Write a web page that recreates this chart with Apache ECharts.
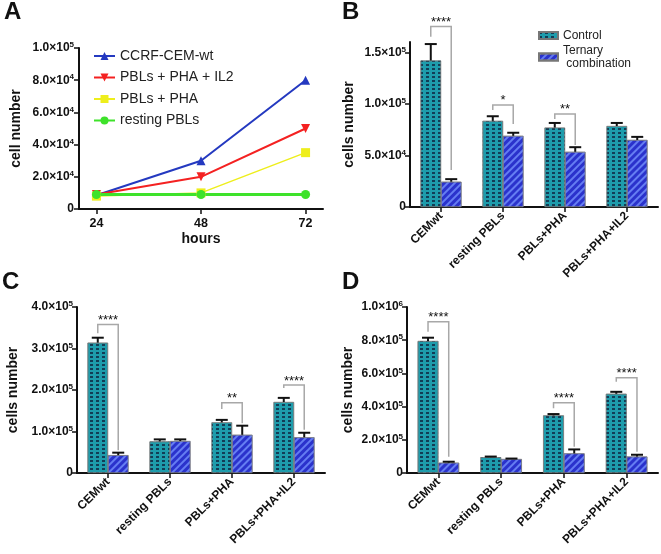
<!DOCTYPE html>
<html><head><meta charset="utf-8">
<script src="https://cdn.jsdelivr.net/npm/echarts@6/dist/echarts.min.js"></script>
<style>html,body{margin:0;padding:0;background:#fff}#c{width:661px;height:554px}</style>
</head><body><div id="c"></div>
<script>
// ---------- Panel A data ----------
const hoursA = [24, 48, 72];
const cemA = [8500, 30000, 80000];
const il2A = [9000, 20000, 50000];
const phaA = [8000, 10000, 35000];
const restA = [9000, 9000, 9000];
const yTicksA = [0, 20000, 40000, 60000, 80000, 100000];
const yLabelsA = ['0', '2.0×10^4', '4.0×10^4', '6.0×10^4', '8.0×10^4', '1.0×10^5'];
const namesA = ['CCRF-CEM-wt', 'PBLs + PHA + IL2', 'PBLs + PHA', 'resting PBLs'];

// ---------- Bar panels ----------
const cats = ['CEMwt', 'resting PBLs', 'PBLs+PHA', 'PBLs+PHA+IL2'];

const ctrlB = [142000, 83500, 77000, 78500];
const ctrlErrB = [158000, 88000, 81500, 81500];
const ternB = [24500, 69000, 53500, 65000];
const ternErrB = [27000, 72000, 58000, 68000];
const sigB = [[0, 175000, 165000, 36000], [1, 99000, 94000, 80500], [2, 90300, 85400, 60200]];
const starsB = ['****', '*', '**'];
const yTicksB = [0, 50000, 100000, 150000];
const yLabelsB = ['0', '5.0×10^4', '1.0×10^5', '1.5×10^5'];

const ctrlC = [314000, 76000, 122000, 171000];
const ctrlErrC = [326000, 81000, 128000, 181000];
const ternC = [43000, 77000, 92000, 86000];
const ternErrC = [49000, 81000, 114000, 97000];
const sigC = [[0, 358000, 337000, 55000], [2, 169000, 154000, 120000], [3, 212000, 205000, 104000]];
const starsC = ['****', '**', '****'];
const yTicksC = [0, 100000, 200000, 300000, 400000];
const yLabelsC = ['0', '1.0×10^5', '2.0×10^5', '3.0×10^5', '4.0×10^5'];

const ctrlD = [795000, 95000, 347000, 477000];
const ctrlErrD = [815000, 99000, 355000, 489000];
const ternD = [62000, 84000, 118000, 99000];
const ternErrD = [68000, 87000, 142000, 110000];
const sigD = [[0, 911000, 851000, 98000], [2, 423000, 390000, 158000], [3, 574000, 550000, 128000]];
const starsD = ['****', '****', '****'];
const yTicksD = [0, 200000, 400000, 600000, 800000, 1000000];
const yLabelsD = ['0', '2.0×10^5', '4.0×10^5', '6.0×10^5', '8.0×10^5', '1.0×10^6'];

// ---------- styling ----------
const FONT = 'Liberation Sans, Arial, sans-serif';
const BARW = 0.33;
const TEAL = '#1e9cac';
const BLUE = '#2a32cc';
const decalCtrl = {symbol: 'rect', symbolSize: 1, dashArrayX: [2.5, 2.5], dashArrayY: [2, 2], color: 'rgba(16,45,70,0.85)'};
const decalTern = {symbol: 'rect', symbolSize: 1, dashArrayX: [1, 0], dashArrayY: [1.6, 2.2], rotation: -Math.PI / 4, color: 'rgba(120,150,255,0.75)'};

function sciFmt(ticks, labels) {
  return function (v) {
    const i = ticks.indexOf(v);
    if (i < 0) return '';
    const s = labels[i];
    const k = s.indexOf('^');
    if (k < 0) return '{m|' + s + '}';
    return '{m|' + s.slice(0, k) + '}{s|' + s.slice(k + 1) + '}';
  };
}
const richY = {
  m: {fontSize: 12, fontWeight: 'bold', fontFamily: FONT, color: '#111', lineHeight: 14},
  s: {fontSize: 8, fontWeight: 'bold', fontFamily: FONT, color: '#111', verticalAlign: 'top'}
};

function errRender(side) {
  return function (params, api) {
    const cat = api.value(0), v = api.value(1), e = api.value(2);
    const band = api.size([1, 0])[0];
    const bw = band * BARW;
    const c = api.coord([cat, v]);
    const t = api.coord([cat, e]);
    const x = c[0] + side * bw / 2;
    return {type: 'group', children: [
      {type: 'line', shape: {x1: x, y1: c[1], x2: x, y2: t[1]}, style: {stroke: '#111', lineWidth: 2}},
      {type: 'line', shape: {x1: x - 6, y1: t[1], x2: x + 6, y2: t[1]}, style: {stroke: '#111', lineWidth: 2}}
    ]};
  };
}
function sigRender(stars) {
  return function (params, api) {
    const cat = api.value(0), top = api.value(1), lb = api.value(2), rb = api.value(3);
    const band = api.size([1, 0])[0];
    const bw = band * BARW;
    const p = api.coord([cat, top]);
    const l = api.coord([cat, lb]);
    const r = api.coord([cat, rb]);
    const xl = p[0] - bw / 2, xr = p[0] + bw / 2;
    return {type: 'group', children: [
      {type: 'polyline', shape: {points: [[xl, l[1]], [xl, p[1]], [xr, p[1]], [xr, r[1]]]}, style: {stroke: '#a8a8a8', lineWidth: 1.5, fill: null}},
      {type: 'text', x: (xl + xr) / 2, y: p[1] - 10.5, style: {text: stars[params.dataIndex], fill: '#111', font: '13px ' + FONT, align: 'center', verticalAlign: 'top'}}
    ]};
  };
}

function zip(a, b) { return a.map((v, i) => [i, v, b[i]]); }

const grids = [
  {left: 79, top: 48, width: 244, height: 161},
  {left: 410, top: 42, width: 248, height: 165},
  {left: 77, top: 307, width: 248, height: 166},
  {left: 407, top: 307, width: 251, height: 166}
];

const axisLineStyle = {lineStyle: {color: '#111', width: 2}};
const tickStyle = {show: true, length: 5, lineStyle: {color: '#111', width: 1.5}};

function catX(gi) {
  return {
    type: 'category', gridIndex: gi, data: cats,
    axisLine: axisLineStyle,
    axisTick: {show: true, alignWithLabel: true, length: 5, lineStyle: {color: '#111', width: 1.5}},
    axisLabel: {rotate: 45, interval: 0, margin: 7, fontSize: 12, fontWeight: 'bold', fontFamily: FONT, color: '#111'}
  };
}
function valY(gi, max, ticks, labels, gap) {
  return {
    type: 'value', gridIndex: gi, min: 0, max: max,
    splitLine: {show: false},
    axisLine: Object.assign({show: true}, axisLineStyle),
    axisTick: Object.assign({customValues: ticks}, tickStyle),
    axisLabel: {customValues: ticks, formatter: sciFmt(ticks, labels), rich: richY, margin: 4},
    name: 'cells number', nameLocation: 'middle', nameGap: gap, nameRotate: 90,
    nameTextStyle: {fontSize: 14, fontWeight: 'bold', fontFamily: FONT, color: '#111'}
  };
}

function barSeries(gi, ctrl, ctrlErr, tern, ternErr, sig, stars) {
  return [
    {type: 'bar', name: 'Control', xAxisIndex: gi, yAxisIndex: gi, data: ctrl, barWidth: (BARW * 100) + '%', barGap: '0%',
     itemStyle: {color: TEAL, borderColor: '#777', borderWidth: 0.6, decal: decalCtrl}, z: 2},
    {type: 'bar', name: 'Ternary combination', xAxisIndex: gi, yAxisIndex: gi, data: tern, barWidth: (BARW * 100) + '%', barGap: '0%',
     itemStyle: {color: BLUE, borderColor: '#777', borderWidth: 0.6, decal: decalTern}, z: 2},
    {type: 'custom', xAxisIndex: gi, yAxisIndex: gi, data: zip(ctrl, ctrlErr), renderItem: errRender(-1), z: 3, clip: false, silent: true},
    {type: 'custom', xAxisIndex: gi, yAxisIndex: gi, data: zip(tern, ternErr), renderItem: errRender(1), z: 3, clip: false, silent: true},
    {type: 'custom', xAxisIndex: gi, yAxisIndex: gi, data: sig, renderItem: sigRender(stars), z: 4, clip: false, silent: true}
  ];
}

function lineSeries(name, ys, color, symbol, rot, width) {
  return {type: 'line', name: name, xAxisIndex: 0, yAxisIndex: 0, data: hoursA.map((h, i) => [h, ys[i]]),
    symbol: symbol, symbolRotate: rot, symbolSize: 9, lineStyle: {color: color, width: width}, itemStyle: {color: color}};
}

const option = {
  animation: false,
  backgroundColor: '#fff',
  grid: grids,
  xAxis: [
    {type: 'value', gridIndex: 0, min: 20, max: 76, splitLine: {show: false},
     axisLine: axisLineStyle,
     axisTick: Object.assign({customValues: hoursA}, tickStyle),
     axisLabel: {customValues: hoursA, margin: 8, fontSize: 12.5, fontWeight: 'bold', fontFamily: FONT, color: '#111'},
     name: 'hours', nameLocation: 'middle', nameGap: 23,
     nameTextStyle: {fontSize: 14, fontWeight: 'bold', fontFamily: FONT, color: '#111'}},
    catX(1), catX(2), catX(3)
  ],
  yAxis: [
    Object.assign(valY(0, 100000, yTicksA, yLabelsA, 56), {name: 'cell number', axisLabel: {customValues: yTicksA, formatter: sciFmt(yTicksA, yLabelsA), rich: richY, margin: 5}}),
    valY(1, 160000, yTicksB, yLabelsB, 54),
    valY(2, 400000, yTicksC, yLabelsC, 57),
    valY(3, 1000000, yTicksD, yLabelsD, 52)
  ],
  legend: [
    {data: namesA, orient: 'vertical', left: 88, top: 44, itemWidth: 21, itemHeight: 10, itemGap: 7.5,
     textStyle: {fontSize: 14, fontFamily: FONT, color: '#222'}},
    {data: ['Control', 'Ternary combination'], orient: 'vertical', left: 533, top: 24, itemWidth: 19, itemHeight: 7, itemGap: 2, icon: 'rect',
     formatter: n => n === 'Ternary combination' ? 'Ternary\n combination' : n,
     textStyle: {fontSize: 12, fontFamily: FONT, color: '#222', lineHeight: 13}}
  ],
  graphic: [
    {type: 'text', left: 4, top: 0, style: {text: 'A', font: 'bold 24px ' + FONT, fill: '#111'}},
    {type: 'text', left: 342, top: 0, style: {text: 'B', font: 'bold 24px ' + FONT, fill: '#111'}},
    {type: 'text', left: 2, top: 270, style: {text: 'C', font: 'bold 24px ' + FONT, fill: '#111'}},
    {type: 'text', left: 342, top: 270, style: {text: 'D', font: 'bold 24px ' + FONT, fill: '#111'}}
  ],
  series: [
    lineSeries(namesA[0], cemA, '#2439c0', 'triangle', 0, 2),
    lineSeries(namesA[1], il2A, '#f42121', 'triangle', 180, 2),
    lineSeries(namesA[2], phaA, '#eeee1c', 'rect', 0, 1.5),
    lineSeries(namesA[3], restA, '#3ee22a', 'circle', 0, 3)
  ].concat(
    barSeries(1, ctrlB, ctrlErrB, ternB, ternErrB, sigB, starsB),
    barSeries(2, ctrlC, ctrlErrC, ternC, ternErrC, sigC, starsC),
    barSeries(3, ctrlD, ctrlErrD, ternD, ternErrD, sigD, starsD)
  )
};

const chart = echarts.init(document.getElementById('c'), null, {renderer: 'canvas'});
chart.setOption(option);
</script>
</body></html>
